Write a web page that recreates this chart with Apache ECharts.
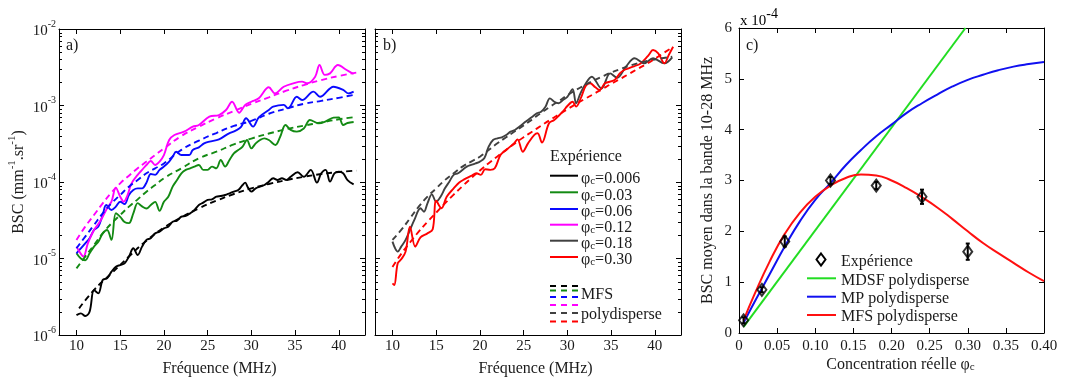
<!DOCTYPE html>
<html><head><meta charset="utf-8">
<script src="https://cdn.jsdelivr.net/npm/echarts@6/dist/echarts.min.js"></script>
<style>html,body{margin:0;padding:0;background:#fff}#c{width:1065px;height:379px}</style>
</head><body><div id="c"></div>
<script>
// ---------- DATA ----------
const freqTicks = [10, 15, 20, 25, 30, 35, 40];
const decadeStarts = [1e-6, 1e-5, 1e-4, 1e-3];
const minorMultipliers = [2, 3, 4, 5, 6, 7, 8, 9];
const phiLabels = ['0.006', '0.03', '0.06', '0.12', '0.18', '0.30'];

// Panel a) experiments [MHz, BSC]
const expPhi006 = [[10,1.82e-6],[10.5,1.92e-6],[11,1.77e-6],[11.5,2.02e-6],[12,3.87e-6],[12.5,3.5e-6],[13,5.24e-6],[13.5,5.5e-6],[14,6.73e-6],[14.5,7.82e-6],[15,8.22e-6],[15.5,8.65e-6],[16,1.06e-5],[16.5,1.36e-5],[17,1.11e-5],[17.5,1.43e-5],[18,1.75e-5],[18.5,1.84e-5],[19,2.13e-5],[19.5,2.24e-5],[20,2.48e-5],[20.5,2.61e-5],[21,3.03e-5],[21.5,3.13e-5],[22,3.52e-5],[22.5,3.6e-5],[23,3.89e-5],[23.5,4.3e-5],[24,5.0e-5],[24.5,5.37e-5],[25,5.82e-5],[25.5,5.93e-5],[26,6.43e-5],[26.5,6.56e-5],[27,6.76e-5],[27.5,7.11e-5],[28,7.48e-5],[28.5,7.86e-5],[29,9.14e-5],[29.3,9.8e-5],[29.6,8.5e-5],[30,7.48e-5],[30.5,8.26e-5],[31,8.69e-5],[31.5,9.14e-5],[32,1.01e-4],[32.5,1.12e-4],[33,1.06e-4],[33.5,1.12e-4],[34,1.06e-4],[34.5,1.17e-4],[35.3,1.34e-4],[36,1.17e-4],[36.8,1.44e-4],[37.5,9.8e-5],[38,1.3e-4],[38.5,1.44e-4],[39,1.01e-4],[39.5,1.3e-4],[40,1.36e-4],[40.5,1.3e-4],[41,1.06e-4],[41.7,9.3e-5]];
const expPhi03 = [[10,1.17e-5],[10.5,1.0e-5],[11,9.5e-6],[11.5,1.17e-5],[12,1.43e-5],[12.5,1.66e-5],[13,2.13e-5],[13.5,2.36e-5],[14,1.75e-5],[14.5,3.9e-5],[15,3.5e-5],[15.5,3.0e-5],[16,2.9e-5],[16.5,3.9e-5],[17,5.3e-5],[17.5,4.8e-5],[18,4.5e-5],[18.5,5.0e-5],[19,5.5e-5],[19.5,4.2e-5],[20,5.5e-5],[20.5,6.4e-5],[21,8.7e-5],[21.5,1.06e-4],[22,1.3e-4],[22.5,1.44e-4],[23,1.51e-4],[23.5,1.59e-4],[24,1.67e-4],[24.5,1.44e-4],[25,1.44e-4],[25.5,1.59e-4],[26,1.51e-4],[26.5,1.94e-4],[27,1.59e-4],[27.5,1.94e-4],[28,2.37e-4],[28.5,2.62e-4],[29,2.9e-4],[29.5,3.54e-4],[30,2.75e-4],[30.5,3.2e-4],[31,3.54e-4],[31.5,3.72e-4],[32,3.54e-4],[32.75,3.05e-4],[33.3,3.9e-4],[33.9,5.56e-4],[34.5,4.8e-4],[35.2,4.55e-4],[36,5.0e-4],[36.7,6.46e-4],[37.7,5.85e-4],[38.5,6.2e-4],[39.4,6.93e-4],[40,7.0e-4],[40.5,5.56e-4],[41,5.9e-4],[41.7,6.08e-4]];
const expPhi06 = [[10,1.17e-5],[10.5,1.36e-5],[11,1.58e-5],[11.5,1.84e-5],[12,2.36e-5],[12.5,2.61e-5],[13,3.7e-5],[13.4,5.0e-5],[14,4.3e-5],[14.5,4.76e-5],[15,5.53e-5],[15.5,5.15e-5],[16,6.76e-5],[16.5,7.86e-5],[17,8.26e-5],[17.5,8.26e-5],[18,9.8e-5],[18.5,1.27e-4],[19,1.24e-4],[19.5,1.44e-4],[20,1.59e-4],[20.6,1.85e-4],[21,2.14e-4],[21.4,2.49e-4],[22,2.25e-4],[22.9,2.25e-4],[23.3,2.62e-4],[24,2.84e-4],[24.6,3.2e-4],[25.2,3.37e-4],[26.3,3.61e-4],[27.4,4.3e-4],[28.2,4.7e-4],[28.8,5.2e-4],[29.4,6.8e-4],[30.2,5.3e-4],[30.85,7.0e-4],[32,8.73e-4],[32.5,9.66e-4],[33.7,1.02e-3],[34.2,9.18e-4],[35.2,1.3e-3],[35.8,1.18e-3],[37.1,1.52e-3],[37.85,1.3e-3],[39.4,1.76e-3],[40.5,1.6e-3],[41.1,1.44e-3],[41.7,1.52e-3]];
const expPhi12 = [[10,1.43e-5],[10.5,1.15e-5],[10.8,1.06e-5],[11.3,1.58e-5],[12,2.36e-5],[12.5,2.82e-5],[13,3.52e-5],[13.5,4.53e-5],[14,5.53e-5],[14.5,8.43e-5],[15,6.43e-5],[15.4,5.53e-5],[15.8,6.56e-5],[16.3,9.61e-5],[17,1.24e-4],[17.5,1.44e-4],[18,1.67e-4],[18.5,1.88e-4],[19,1.67e-4],[19.5,1.85e-4],[20,2.25e-4],[20.6,3.54e-4],[21.2,4.11e-4],[22.3,4.55e-4],[23.3,5.28e-4],[24,5.56e-4],[25.2,7.14e-4],[26.3,7.51e-4],[27.1,8.73e-4],[27.8,1.12e-3],[28.6,8.05e-4],[29.3,1.02e-3],[30,1.12e-3],[30.85,1.24e-3],[32,1.73e-3],[32.7,1.44e-3],[33.7,1.76e-3],[34.8,1.95e-3],[35.8,2.05e-3],[36.4,1.95e-3],[37.3,2.38e-3],[37.8,3.38e-3],[38.4,2.51e-3],[39,2.63e-3],[39.9,3.38e-3],[40.9,2.91e-3],[41.7,2.58e-3]];
// Panel a) MFS polydisperse model
const mfsPhi006 = [[10.3,2.23e-6],[12,3.87e-6],[14,6.4e-6],[16,1.06e-5],[18,1.71e-5],[20,2.53e-5],[22,3.45e-5],[24,4.53e-5],[26,5.7e-5],[28,6.97e-5],[30,8.26e-5],[32,9.42e-5],[34,1.06e-4],[36,1.17e-4],[38,1.27e-4],[40,1.35e-4],[42,1.41e-4]];
const mfsPhi03 = [[10,7.43e-6],[11,1.06e-5],[12,1.5e-5],[13,2.13e-5],[14,2.88e-5],[15,3.7e-5],[16,4.76e-5],[17,5.93e-5],[18,7.48e-5],[19,9.14e-5],[20,1.12e-4],[22,1.51e-4],[24,2.04e-4],[26,2.49e-4],[28,3.1e-4],[30,3.7e-4],[32,4.3e-4],[34,4.9e-4],[36,5.45e-4],[38,6.0e-4],[40,6.6e-4],[42,7.1e-4]];
const mfsPhi06 = [[10,1.36e-5],[11,1.93e-5],[12,2.74e-5],[13,3.89e-5],[14,5.26e-5],[15,6.76e-5],[16,8.69e-5],[17,1.06e-4],[18,1.3e-4],[19,1.51e-4],[20,1.75e-4],[22,2.63e-4],[24,3.47e-4],[26,4.37e-4],[28,5.4e-4],[30,6.3e-4],[32,7.8e-4],[34,9.1e-4],[36,1.05e-3],[38,1.15e-3],[40,1.26e-3],[42,1.4e-3]];
const mfsPhi12 = [[10,1.75e-5],[11,2.61e-5],[12,3.7e-5],[13,5.26e-5],[14,7.26e-5],[15,9.61e-5],[16,1.21e-4],[17,1.51e-4],[18,1.85e-4],[19,2.25e-4],[20,2.75e-4],[22,3.99e-4],[24,5.28e-4],[26,6.79e-4],[28,8.47e-4],[30,1.05e-3],[32,1.28e-3],[34,1.56e-3],[36,1.85e-3],[38,2.15e-3],[40,2.43e-3],[42,2.69e-3]];

// Panel b) experiments
const expPhi18 = [[10,1.66e-5],[10.3,1.36e-5],[10.6,1.23e-5],[11,1.43e-5],[11.5,1.75e-5],[12,2.36e-5],[12.5,3.19e-5],[13.2,4.53e-5],[13.6,4.09e-5],[14,5.26e-5],[14.5,6.9e-5],[15,5.53e-5],[15.5,6.43e-5],[16,8.26e-5],[16.5,1.01e-4],[17,1.24e-4],[17.5,1.3e-4],[18,1.44e-4],[18.5,1.59e-4],[19,1.67e-4],[19.5,1.75e-4],[20,1.85e-4],[20.5,2.04e-4],[21,2.9e-4],[21.5,3.54e-4],[22,3.72e-4],[22.5,3.84e-4],[23,4.11e-4],[23.5,4.55e-4],[24,4.79e-4],[24.5,5.28e-4],[25,5.85e-4],[25.5,6.46e-4],[26,7.14e-4],[26.5,7.9e-4],[27,8.3e-4],[27.5,9.66e-4],[28,1.24e-3],[28.5,1.12e-3],[29,1.07e-3],[29.5,1.18e-3],[30,1.3e-3],[30.6,1.63e-3],[31,1.07e-3],[31.5,1.44e-3],[32,1.85e-3],[32.8,2.38e-3],[33.9,1.67e-3],[34.9,2.63e-3],[35.7,2.3e-3],[36.7,3.22e-3],[37.7,4.14e-3],[38.8,3.56e-3],[39.8,4.14e-3],[41.1,3.56e-3],[42,4.26e-3]];
const expPhi30 = [[10,4.73e-6],[10.2,4.5e-6],[10.6,8.65e-6],[11,9.75e-6],[11.5,1.23e-5],[12,2.61e-5],[12.6,1.43e-5],[13.2,1.89e-5],[14,2.13e-5],[14.6,2.41e-5],[15,5.7e-5],[15.6,4.53e-5],[16.2,6.43e-5],[17,8.26e-5],[17.6,9.8e-5],[18.2,1.08e-4],[19,1.2e-4],[19.6,1.3e-4],[20.1,1.24e-4],[20.6,1.47e-4],[21.2,1.44e-4],[21.7,1.51e-4],[22.35,2.25e-4],[23,2.62e-4],[23.9,3.2e-4],[24.3,3.61e-4],[24.9,2.49e-4],[25.5,3.2e-4],[26.2,4.11e-4],[26.6,4.33e-4],[27.1,3.27e-4],[27.9,5.85e-4],[28.5,6.46e-4],[29.1,7.51e-4],[29.6,8.65e-4],[30,9.84e-4],[30.6,1.12e-3],[31,9.66e-4],[31.6,1.3e-3],[32.1,1.8e-3],[32.6,1.95e-3],[33.2,1.73e-3],[33.7,1.6e-3],[34.3,1.95e-3],[35.4,2.15e-3],[36,2.63e-3],[36.5,2.91e-3],[37,3.06e-3],[37.7,3.28e-3],[38.3,3.49e-3],[38.8,3.94e-3],[39.3,4.57e-3],[39.8,5.31e-3],[40.4,4.81e-3],[41.1,3.56e-3],[41.6,4.57e-3],[42.1,5.87e-3]];
const mfsPhi18 = [[10,1.75e-5],[11,2.36e-5],[12,3.35e-5],[13,4.76e-5],[14,6.43e-5],[15,8.26e-5],[16,1.06e-4],[17,1.3e-4],[18,1.59e-4],[19,1.85e-4],[20,2.14e-4],[21,2.62e-4],[22,3.2e-4],[23,3.85e-4],[24,4.6e-4],[25,5.5e-4],[26,6.6e-4],[27,8.0e-4],[28,9.6e-4],[29,1.14e-3],[30,1.36e-3],[31,1.6e-3],[32,1.85e-3],[33,2.12e-3],[34,2.4e-3],[35,2.7e-3],[36,2.98e-3],[37,3.27e-3],[38,3.55e-3],[39,3.8e-3],[40,4.0e-3],[41,4.18e-3],[42,4.35e-3]];
const mfsPhi30 = [[10,7.76e-6],[11,1.15e-5],[12,1.62e-5],[13,2.24e-5],[14,3.02e-5],[15,3.98e-5],[16,5.25e-5],[17,6.84e-5],[18,8.81e-5],[19,1.12e-4],[20,1.41e-4],[21,1.76e-4],[22,2.16e-4],[23,2.63e-4],[24,3.2e-4],[25,3.85e-4],[26,4.57e-4],[27,5.43e-4],[28,6.46e-4],[29,7.59e-4],[30,8.91e-4],[31,1.05e-3],[32,1.22e-3],[33,1.41e-3],[34,1.64e-3],[35,1.91e-3],[36,2.21e-3],[37,2.57e-3],[38,2.99e-3],[39,3.47e-3],[40,4.07e-3],[41,4.84e-3],[42,5.75e-3]];

// Panel c) mean BSC 10-28 MHz (x 1e-4) vs concentration
const cPhi = [0.006, 0.03, 0.06, 0.12, 0.18, 0.24, 0.30];
const cBsc = [0.25, 0.85, 1.8, 3.0, 2.9, 2.68, 1.6];
const cErr = [0.06, 0.05, 0.1, 0.07, 0.07, 0.14, 0.16];
const mdsfCurve = [[0.006, 0.12], [0.297, 6.0]];
const mpCurve = [[0.006,0.2],[0.02,0.6],[0.04,1.15],[0.06,1.7],[0.08,2.2],[0.1,2.62],[0.12,2.95],[0.14,3.3],[0.16,3.6],[0.18,3.87],[0.2,4.1],[0.22,4.33],[0.24,4.52],[0.26,4.69],[0.28,4.85],[0.3,4.98],[0.32,5.08],[0.34,5.17],[0.36,5.24],[0.38,5.29],[0.4,5.33]];
const mfsCurve = [[0.006,0.25],[0.02,0.75],[0.04,1.4],[0.06,1.95],[0.08,2.37],[0.1,2.68],[0.12,2.9],[0.14,3.05],[0.16,3.12],[0.18,3.1],[0.2,3.0],[0.22,2.85],[0.24,2.67],[0.26,2.47],[0.28,2.24],[0.3,2.0],[0.32,1.77],[0.34,1.57],[0.36,1.38],[0.38,1.19],[0.4,1.02]];

// ---------- STYLE ----------
const FONT = '"Liberation Serif", "Times New Roman", serif';
const TXT = '#1a1a1a';
const COL = { black: '#000000', green: '#138a13', blue: '#0a0aff', magenta: '#ff00ff', gray: '#404040', red: '#ff0000' };
const legendColors = [COL.black, COL.green, COL.blue, COL.magenta, COL.gray, COL.red];
const CCOL = { green: '#22dd22', blue: '#1010f0', red: '#ff1010' };

const supRich = {
  b: { fontFamily: FONT, fontSize: 15, color: TXT, lineHeight: 20, verticalAlign: 'bottom' },
  s: { fontFamily: FONT, fontSize: 10, color: TXT, lineHeight: 10, verticalAlign: 'top' }
};
const nameRich = {
  n: { fontFamily: FONT, fontSize: 16, color: TXT, lineHeight: 20, verticalAlign: 'bottom' },
  s: { fontFamily: FONT, fontSize: 11, color: TXT, lineHeight: 10, verticalAlign: 'top' },
  c: { fontFamily: FONT, fontSize: 11, color: TXT, lineHeight: 10, verticalAlign: 'bottom' }
};
const axisLine = { show: true, onZero: false, lineStyle: { color: '#000', width: 1 } };
const lblStyle = { fontFamily: FONT, fontSize: 15, color: TXT };

function freqAxis(gi, pos, named) {
  return {
    gridIndex: gi, type: 'value', min: 8, max: 43, position: pos,
    axisLine: axisLine,
    axisTick: { show: true, inside: true, length: 5, customValues: freqTicks, lineStyle: { color: '#000' } },
    axisLabel: { show: pos === 'bottom', customValues: freqTicks, fontFamily: FONT, fontSize: 15, color: TXT, margin: 4,
      formatter: v => '{t|' + v + '}', rich: { t: lblStyle } },
    splitLine: { show: false },
    name: named ? '{n|Fréquence (MHz)}' : '', nameLocation: 'middle', nameGap: 22, nameMoveOverlap: false,
    nameTextStyle: { fontFamily: FONT, fontSize: 16, color: TXT, rich: nameRich, padding: [0, 0, 0, 15] }
  };
}
function logAxis(gi, pos, labels, name) {
  return {
    gridIndex: gi, type: 'log', logBase: 10, min: 1e-6, max: 1e-2, position: pos,
    axisLine: axisLine,
    axisTick: { show: true, inside: true, length: 5, lineStyle: { color: '#000' } },
    axisLabel: {
      show: labels, margin: 3,
      formatter: v => '{b|10}{s|' + Math.round(Math.log10(v)) + '}', rich: supRich
    },
    splitLine: { show: false }, minorTick: { show: false },
    name: name || '', nameLocation: 'middle', nameGap: 32, nameRotate: 90, nameMoveOverlap: false,
    nameTextStyle: { fontFamily: FONT, rich: nameRich }
  };
}
function minorTicks(xi, yi) {
  return {
    type: 'custom', xAxisIndex: xi, yAxisIndex: yi, silent: true, clip: false, z: 5,
    data: [[10, 1e-4]],
    renderItem: (params, api) => {
      const cs = params.coordSys, ch = [];
      decadeStarts.forEach(d => minorMultipliers.forEach(m => {
        const y = Math.round(api.coord([10, d * m])[1]) + 0.5;
        ch.push({ type: 'line', shape: { x1: cs.x, y1: y, x2: cs.x + 3, y2: y }, style: { stroke: '#000', lineWidth: 1 } });
        ch.push({ type: 'line', shape: { x1: cs.x + cs.width - 3, y1: y, x2: cs.x + cs.width, y2: y }, style: { stroke: '#000', lineWidth: 1 } });
      }));
      return { type: 'group', children: ch };
    }
  };
}
function expLine(xi, yi, data, color) {
  return { type: 'line', xAxisIndex: xi, yAxisIndex: yi, data: data, showSymbol: false, smooth: 0.35,
    lineStyle: { color: color, width: 1.9 }, itemStyle: { color: color }, z: 3, silent: true };
}
function modelLine(xi, yi, data, color) {
  return { type: 'line', xAxisIndex: xi, yAxisIndex: yi, data: data, showSymbol: false, smooth: true,
    lineStyle: { color: color, width: 1.9, type: [6, 4] }, itemStyle: { color: color }, z: 4, silent: true };
}

// ---------- GRAPHICS (panel labels, legends) ----------
const g = [];
function txt(x, y, text, extra) {
  g.push(Object.assign({ type: 'text', x: x, y: y, silent: true,
    style: { text: text, fontFamily: FONT, fontSize: 16, fill: TXT, align: 'left', verticalAlign: 'middle', rich: nameRich } }, extra || {}));
}
txt(66, 44, '{n|a)}'); txt(383, 44, '{n|b)}'); txt(746, 44, '{n|c)}');
g.push({ type: 'text', x: 740, y: 18, silent: true,
  style: { text: '{b|x 10}{s|-4}', align: 'left', verticalAlign: 'middle',
    rich: { b: { fontFamily: FONT, fontSize: 15, color: TXT, lineHeight: 22, verticalAlign: 'bottom' },
            s: { fontFamily: FONT, fontSize: 14, color: TXT, lineHeight: 12, verticalAlign: 'top' } } } });
// panel b legend
txt(550, 155, '{n|Expérience}');
const legRowY = [175.7, 192.3, 209, 224.7, 240.7, 257];
phiLabels.forEach((lab, i) => {
  g.push({ type: 'line', silent: true, shape: { x1: 550, y1: legRowY[i], x2: 578, y2: legRowY[i] }, style: { stroke: legendColors[i], lineWidth: 2 } });
  txt(581, legRowY[i] + 1, '{n|φ}{c|c}{n|=' + lab + '}');
});
const dashRowY = [286, 290.5, 297, 305, 313, 321.5];
legendColors.forEach((c, i) => {
  g.push({ type: 'line', silent: true, shape: { x1: 550, y1: dashRowY[i], x2: 578, y2: dashRowY[i] }, style: { stroke: c, lineWidth: 2, lineDash: [6, 5] } });
});
txt(581, 293, '{n|MFS}'); txt(581, 313, '{n|polydisperse}');
// panel c legend
g.push({ type: 'polygon', silent: true, shape: { points: [[821, 253.5], [825.5, 259.5], [821, 265.5], [816.5, 259.5]] }, style: { fill: 'none', stroke: '#000', lineWidth: 2 } });
txt(841, 259.5, '{n|Expérience}');
const cLegY = [278.3, 296.7, 315];
const cLegLab = ['MDSF polydisperse', 'MP polydisperse', 'MFS polydisperse'];
[CCOL.green, CCOL.blue, CCOL.red].forEach((c, i) => {
  g.push({ type: 'line', silent: true, shape: { x1: 807, y1: cLegY[i], x2: 836, y2: cLegY[i] }, style: { stroke: c, lineWidth: 2 } });
  txt(841, cLegY[i], '{n|' + cLegLab[i] + '}');
});

// ---------- OPTION ----------
const option = {
  animation: false,
  backgroundColor: '#fff',
  textStyle: { fontFamily: FONT },
  grid: [
    { left: 59, top: 29, width: 306, height: 306, outerBoundsMode: 'none', containLabel: false },
    { left: 375, top: 29, width: 306, height: 306, outerBoundsMode: 'none', containLabel: false },
    { left: 739, top: 28, width: 305, height: 305, outerBoundsMode: 'none', containLabel: false }
  ],
  xAxis: [
    freqAxis(0, 'bottom', true), freqAxis(0, 'top', false),
    freqAxis(1, 'bottom', true), freqAxis(1, 'top', false),
    { gridIndex: 2, type: 'value', min: 0, max: 0.4, interval: 0.05, position: 'bottom', axisLine: axisLine,
      axisTick: { inside: true, length: 5, lineStyle: { color: '#000' } },
      axisLabel: { fontFamily: FONT, fontSize: 15, color: TXT, margin: 6,
        formatter: v => '{t|' + (v === 0 ? '0' : v.toFixed(2)) + '}', rich: { t: lblStyle } },
      splitLine: { show: false },
      name: '{n|Concentration réelle φ}{c|c}', nameLocation: 'middle', nameGap: 20, nameMoveOverlap: false,
      nameTextStyle: { fontFamily: FONT, rich: nameRich, padding: [0, 0, 0, 18] } },
    { gridIndex: 2, type: 'value', min: 0, max: 0.4, interval: 0.05, position: 'top', axisLine: axisLine,
      axisTick: { inside: true, length: 5, lineStyle: { color: '#000' } }, axisLabel: { show: false }, splitLine: { show: false } }
  ],
  yAxis: [
    logAxis(0, 'left', true, '{n|BSC (mm}{s|-1}{n|.sr}{s|-1}{n|)}'), logAxis(0, 'right', false),
    logAxis(1, 'left', false), logAxis(1, 'right', false),
    { gridIndex: 2, type: 'value', min: 0, max: 6, interval: 1, position: 'left', axisLine: axisLine,
      axisTick: { inside: true, length: 5, lineStyle: { color: '#000' } },
      axisLabel: { fontFamily: FONT, fontSize: 15, color: TXT, margin: 7, formatter: v => '{t|' + v + '}', rich: { t: lblStyle } },
      splitLine: { show: false },
      name: '{n|BSC moyen dans la bande 10-28 MHz}', nameLocation: 'middle', nameGap: 23, nameRotate: 90, nameMoveOverlap: false,
      nameTextStyle: { fontFamily: FONT, fontSize: 16, color: TXT, rich: nameRich } },
    { gridIndex: 2, type: 'value', min: 0, max: 6, interval: 1, position: 'right', axisLine: axisLine,
      axisTick: { inside: true, length: 5, lineStyle: { color: '#000' } }, axisLabel: { show: false }, splitLine: { show: false } }
  ],
  graphic: g,
  series: [
    minorTicks(0, 0), minorTicks(2, 2),
    expLine(0, 0, expPhi006, COL.black), expLine(0, 0, expPhi03, COL.green),
    expLine(0, 0, expPhi06, COL.blue), expLine(0, 0, expPhi12, COL.magenta),
    modelLine(0, 0, mfsPhi006, COL.black), modelLine(0, 0, mfsPhi03, COL.green),
    modelLine(0, 0, mfsPhi06, COL.blue), modelLine(0, 0, mfsPhi12, COL.magenta),
    expLine(2, 2, expPhi18, COL.gray), expLine(2, 2, expPhi30, COL.red),
    modelLine(2, 2, mfsPhi18, COL.gray), modelLine(2, 2, mfsPhi30, COL.red),
    { type: 'line', xAxisIndex: 4, yAxisIndex: 4, data: mdsfCurve, showSymbol: false, lineStyle: { color: CCOL.green, width: 2 }, clip: true, silent: true },
    { type: 'line', xAxisIndex: 4, yAxisIndex: 4, data: mpCurve, showSymbol: false, smooth: true, lineStyle: { color: CCOL.blue, width: 2 }, silent: true },
    { type: 'line', xAxisIndex: 4, yAxisIndex: 4, data: mfsCurve, showSymbol: false, smooth: true, lineStyle: { color: CCOL.red, width: 2 }, silent: true },
    { type: 'scatter', xAxisIndex: 4, yAxisIndex: 4, data: cPhi.map((x, i) => [x, cBsc[i]]), symbol: 'diamond', symbolSize: [9, 12],
      itemStyle: { color: 'rgba(0,0,0,0)', borderColor: '#000', borderWidth: 2 }, z: 6, silent: true },
    { type: 'custom', xAxisIndex: 4, yAxisIndex: 4, z: 7, silent: true,
      data: cPhi.map((x, i) => [x, cBsc[i] - cErr[i], cBsc[i] + cErr[i]]),
      encode: { x: 0, y: [1, 2] },
      renderItem: (params, api) => {
        const x = api.value(0);
        const lo = api.coord([x, api.value(1)]), hi = api.coord([x, api.value(2)]);
        const st = { stroke: '#000', lineWidth: 2 };
        return { type: 'group', children: [
          { type: 'line', shape: { x1: lo[0], y1: lo[1], x2: hi[0], y2: hi[1] }, style: st },
          { type: 'line', shape: { x1: lo[0] - 2, y1: lo[1], x2: lo[0] + 2, y2: lo[1] }, style: st },
          { type: 'line', shape: { x1: hi[0] - 2, y1: hi[1], x2: hi[0] + 2, y2: hi[1] }, style: st }
        ] };
      } }
  ]
};
const chart = echarts.init(document.getElementById('c'), null, { renderer: 'canvas' });
chart.setOption(option);
</script></body></html>
